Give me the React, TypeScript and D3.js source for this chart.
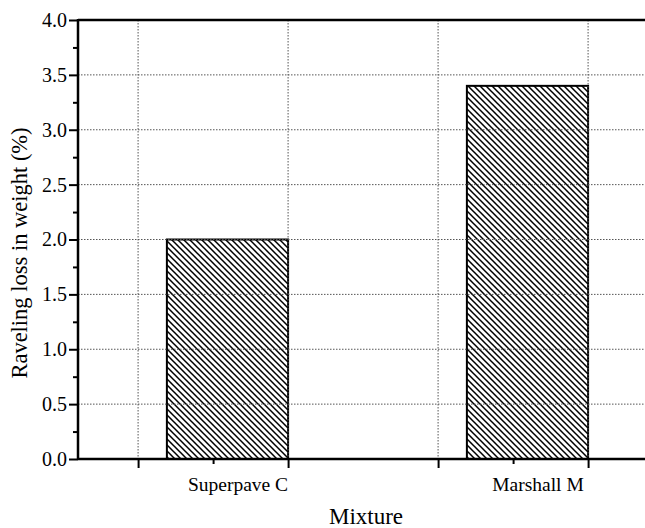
import React, { useEffect, useRef } from 'react';
import * as d3 from 'd3';

// chart data
const categories = ['Superpave C', 'Marshall M'];
const categoryPos = [1, 2];
const ravelingLoss = [2.0, 3.4];

// axis ticks
const yMajorTicks = [0, 0.5, 1.0, 1.5, 2.0, 2.5, 3.0, 3.5, 4.0];
const yMinorTicks = [0.25, 0.75, 1.25, 1.75, 2.25, 2.75, 3.25, 3.75];
const xMajorTicks = [0.667, 1.167, 1.667, 2.167];
const xMinorTicks = [0.917, 1.917];

const FONT = 'Liberation Serif, Times New Roman, serif';

function App() {
  const ref = useRef<SVGSVGElement>(null);

  useEffect(() => {
    drawChart();
  }, []);

  const drawChart = () => {
    const margin = { top: 20, right: 0, bottom: 69, left: 78 };
    const width = 654 - margin.left;
    const height = 528 - margin.top - margin.bottom;

    const root = d3.select(ref.current);
    root.selectAll('*').remove();

    // hatch pattern
    const defs = root.append('defs');
    const pat = defs.append('pattern')
      .attr('id', 'hatch')
      .attr('patternUnits', 'userSpaceOnUse')
      .attr('width', 6)
      .attr('height', 6);
    pat.append('path')
      .attr('d', 'M0,0 L6,6 M-1,5 L1,7 M5,-1 L7,1')
      .attr('stroke', '#000')
      .attr('stroke-width', 1.5);

    const svg = root.append('g')
      .attr('transform', `translate(${margin.left},${margin.top})`);

    const x = d3.scaleLinear()
      .domain([0.4667, 2.3867])
      .range([0, width]);

    const y = d3.scaleLinear()
      .domain([0, 4])
      .range([height, 0]);

    // bars (left edge a bit off the category centre, as in the original)
    const barLeft = -0.237;
    const barRight = 0.167;
    svg.selectAll('rect.bar')
      .data(ravelingLoss)
      .enter()
      .append('rect')
      .attr('class', 'bar')
      .attr('x', (d, i) => x(categoryPos[i] + barLeft))
      .attr('width', (d, i) => x(categoryPos[i] + barRight) - x(categoryPos[i] + barLeft))
      .attr('y', d => y(d))
      .attr('height', d => height - y(d))
      .attr('fill', 'url(#hatch)')
      .attr('stroke', '#000')
      .attr('stroke-width', 2);

    // grid lines
    svg.selectAll('line.hgrid')
      .data(yMajorTicks.filter(d => d > 0 && d < 4))
      .enter()
      .append('line')
      .attr('x1', 0)
      .attr('x2', width)
      .attr('y1', d => y(d))
      .attr('y2', d => y(d))
      .attr('stroke', '#555')
      .attr('stroke-width', 1)
      .attr('stroke-dasharray', '1.5,1.5');

    svg.selectAll('line.vgrid')
      .data(xMajorTicks)
      .enter()
      .append('line')
      .attr('x1', d => x(d))
      .attr('x2', d => x(d))
      .attr('y1', 0)
      .attr('y2', height)
      .attr('stroke', '#555')
      .attr('stroke-width', 1)
      .attr('stroke-dasharray', '1.5,1.5');

    // y axis
    svg.append('g')
      .call(d3.axisLeft(y).tickValues(yMajorTicks).tickSize(9).tickFormat(d3.format('.1f')))
      .call(g => g.select('.domain').remove())
      .call(g => g.selectAll('line').attr('stroke', '#000').attr('stroke-width', 2))
      .call(g => g.selectAll('text')
        .attr('x', -11)
        .style('font-family', FONT)
        .style('font-size', '20px')
        .attr('fill', '#000'));

    svg.append('g')
      .call(d3.axisLeft(y).tickValues(yMinorTicks).tickSize(5).tickFormat(() => ''))
      .call(g => g.select('.domain').remove())
      .call(g => g.selectAll('line').attr('stroke', '#000').attr('stroke-width', 2));

    // x axis
    svg.append('g')
      .attr('transform', `translate(0,${height})`)
      .call(d3.axisBottom(x).tickValues(xMajorTicks).tickSize(9).tickFormat(() => ''))
      .call(g => g.select('.domain').remove())
      .call(g => g.selectAll('line').attr('stroke', '#000').attr('stroke-width', 2));

    svg.append('g')
      .attr('transform', `translate(0,${height})`)
      .call(d3.axisBottom(x).tickValues(xMinorTicks).tickSize(5).tickFormat(() => ''))
      .call(g => g.select('.domain').remove())
      .call(g => g.selectAll('line').attr('stroke', '#000').attr('stroke-width', 2));

    // category labels
    svg.selectAll('text.cat')
      .data(categories)
      .enter()
      .append('text')
      .attr('x', (d, i) => x(categoryPos[i]))
      .attr('y', height + 32)
      .attr('text-anchor', 'middle')
      .style('font-family', FONT)
      .style('font-size', '19.5px')
      .attr('fill', '#000')
      .text(d => d);

    // frame lines: left, bottom, top
    svg.append('line')
      .attr('x1', 0).attr('x2', 0)
      .attr('y1', -1).attr('y2', height + 1)
      .attr('stroke', '#000').attr('stroke-width', 2.5);
    svg.append('line')
      .attr('x1', 0).attr('x2', width)
      .attr('y1', height).attr('y2', height)
      .attr('stroke', '#000').attr('stroke-width', 2.5);
    svg.append('line')
      .attr('x1', 0).attr('x2', width)
      .attr('y1', 0).attr('y2', 0)
      .attr('stroke', '#000').attr('stroke-width', 2.5);

    // axis titles
    root.append('text')
      .attr('transform', `translate(27,253) rotate(-90)`)
      .attr('text-anchor', 'middle')
      .style('font-family', FONT)
      .style('font-size', '22.5px')
      .attr('fill', '#000')
      .text('Raveling loss in weight (%)');

    root.append('text')
      .attr('x', 366)
      .attr('y', 524)
      .attr('text-anchor', 'middle')
      .style('font-family', FONT)
      .style('font-size', '23px')
      .attr('fill', '#000')
      .text('Mixture');
  };

  return (
    <svg
      ref={ref}
      width={645}
      height={528}
      style={{ position: 'absolute', left: 0, top: 0, background: '#fff' }}
    />
  );
}

export default App;
